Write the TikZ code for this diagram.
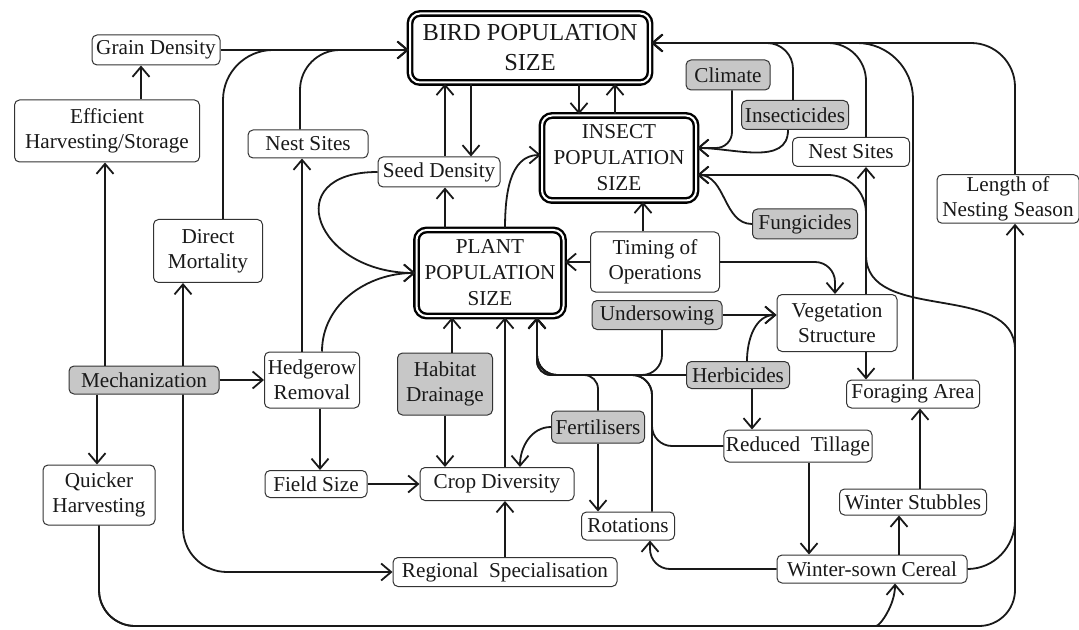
\documentclass[tikz,border=0pt]{standalone}
\usepackage{fontspec}
\setmainfont{Liberation Serif}
\usetikzlibrary{arrows.meta,calc}

\begin{document}
\begin{tikzpicture}[x=0.5pt,y=0.5pt,
  box/.style={draw=black!80, line width=0.5pt, rounded corners=2.5pt, fill=white, align=center,
    inner sep=1pt, text=black!90, font=\fontsize{10.6}{12.5}\selectfont},
  grey/.style={box, fill=black!22},
  pop/.style={box, draw=black, line width=1.2pt, double=white, double distance=1pt,
    rounded corners=5pt, font=\fontsize{10.6}{13}\selectfont},
  arr/.style={-{Straight Barb[length=5pt,width=8.5pt]}, line width=0.9pt, draw=black!90},
]
  \useasboundingbox (0,0) rectangle (1079,-630);
  % top row
  \node[box, minimum width=64pt, minimum height=15pt] (Grain) at(156,-50){Grain Density};
  \node[pop, minimum width=120pt, minimum height=34.5pt, font=\fontsize{12.2}{15}\selectfont] (Bird) at(530,-48){BIRD POPULATION\\SIZE};
  \node[grey, minimum width=42pt, minimum height=15pt] (Climate) at(728,-75){Climate};
  \node[grey, minimum width=53.5pt, minimum height=14.5pt] (Insecticides) at(795,-115){Insecticides};
  \node[box, minimum width=92.5pt, minimum height=31pt] (Eff) at(107,-131){Efficient\\Harvesting/Storage};
  \node[box, minimum width=60pt, minimum height=14pt] (NestL) at(308,-144){Nest Sites};
  \node[box, minimum width=58.5pt, minimum height=14.5pt] (NestR) at(851,-152){Nest Sites};
  \node[pop, minimum width=77pt, minimum height=42.5pt] (Insect) at(619,-158){INSECT\\POPULATION\\SIZE};
  \node[box, minimum width=61pt, minimum height=15pt] (Seed) at(439,-172){Seed Density};
  \node[box, minimum width=71pt, minimum height=23pt] (Length) at(1008,-199){Length of\\Nesting Season};
  \node[grey, minimum width=52.5pt, minimum height=15pt] (Fung) at(805,-224){Fungicides};
  % middle
  \node[box, minimum width=54.5pt, minimum height=31.5pt] (Direct) at(208,-251){Direct\\Mortality};
  \node[box, minimum width=64.5pt, minimum height=30pt] (Timing) at(655,-262){Timing of\\Operations};
  \node[pop, minimum width=73.5pt, minimum height=43pt] (Plant) at(490,-273){PLANT\\POPULATION\\SIZE};
  \node[grey, minimum width=65pt, minimum height=14.5pt] (Under) at(657,-315){Undersowing};
  \node[box, minimum width=60pt, minimum height=28.5pt] (Veg) at(837,-323){Vegetation\\Structure};
  \node[grey, minimum width=75pt, minimum height=14pt] (Mech) at(144,-380){Mechanization};
  \node[box, minimum width=47.5pt, minimum height=28pt] (Hedge) at(312,-380){Hedgerow\\Removal};
  \node[grey, minimum width=47.5pt, minimum height=31pt] (Drain) at(445,-384){Habitat\\Drainage};
  \node[grey, minimum width=51.5pt, minimum height=13.5pt] (Herb) at(738,-375){Herbicides};
  \node[box, minimum width=66.5pt, minimum height=14pt] (Forage) at(913,-394){Foraging Area};
  \node[grey, minimum width=46.5pt, minimum height=16pt] (Fert) at(598,-427){Fertilisers};
  \node[box, minimum width=74pt, minimum height=16pt] (Tillage) at(798,-446){Reduced~ Tillage};
  % bottom
  \node[box, minimum width=51pt, minimum height=13.5pt] (Field) at(316,-484){Field Size};
  \node[box, minimum width=77pt, minimum height=16.5pt] (Crop) at(497,-484){Crop Diversity};
  \node[box, minimum width=56pt, minimum height=30pt] (Quick) at(99,-495){Quicker\\Harvesting};
  \node[box, minimum width=73.5pt, minimum height=13pt] (Stubble) at(913,-502){Winter Stubbles};
  \node[box, minimum width=46.5pt, minimum height=14pt] (Rot) at(628,-526){Rotations};
  \node[box, minimum width=95pt, minimum height=14pt] (Cereal) at(872,-569){Winter-sown Cereal};
  \node[box, minimum width=112pt, minimum height=14.5pt] (Region) at(505,-572){Regional~ Specialisation};

  \coordinate (birdL) at (Grain.east -| Bird.west);
  \coordinate (birdR) at ($(Bird.east)+(0,5)$);
  \coordinate (insUp) at ($(Insect.east)+(0,10)$);
  \coordinate (insDn) at ($(Insect.east)+(0,-17)$);
  \coordinate (bus) at (537,0 |- Herb.west);
  \coordinate (busR) at (652,0 |- Herb.west);

  % left side
  \draw[arr] (141,0 |- Eff.north) -- (141,0 |- Grain.south);
  \draw[arr] (Grain.east) -- (birdL);
  \draw[arr, rounded corners=25pt] (223,0 |- Direct.north) |- (birdL);
  \draw[arr, rounded corners=20pt] (300,0 |- NestL.north) |- (birdL);
  \draw[arr] (105,0 |- Mech.north) -- (105,0 |- Eff.south);
  \draw[arr] (183,0 |- Mech.north) -- (183,0 |- Direct.south);
  \draw[arr, rounded corners=22pt] (183,0 |- Mech.south) |- (Region.west);
  \draw[arr] (Mech.east) -- (Hedge.west);
  \draw[arr] (97,0 |- Mech.south) -- (97,0 |- Quick.north);
  \draw[arr, rounded corners=18pt] (Quick.south) |- (1015,-626) -- (1015,0 |- Length.south);
  \draw[arr, rounded corners=18pt] (Quick.south) |- (840,-626) .. controls (880,-626) and (895,-605) .. (895,0 |- Cereal.south);
  \draw[arr] (302,0 |- Hedge.north) -- (302,0 |- NestL.south);
  \draw[arr] (322,0 |- Hedge.north) to[out=90,in=180] (Plant.west);
  \draw[arr] (Seed.west) .. controls +(-100,0) and +(-100,0) .. (Plant.west);
  \draw[arr] (320,0 |- Hedge.south) -- (320,0 |- Field.north);
  \draw[arr] (Field.east) -- (Crop.west);
  % plants and crops
  \draw[arr] (452,0 |- Drain.north) -- (452,0 |- Plant.south);
  \draw[arr] (445,0 |- Drain.south) -- (445,0 |- Crop.north);
  \draw[arr] (505,0 |- Crop.north) -- (505,0 |- Plant.south);
  \draw[arr] (505,0 |- Region.north) -- (505,0 |- Crop.south);
  \draw[arr] (Fert.west) to[out=180,in=90] (520,0 |- Crop.north);
  \draw[arr] (Fert.south) -- (Fert.south |- Rot.north);
  \draw[arr, rounded corners=7pt] (Fert.north) |- (bus) -- (bus |- Plant.south);
  \draw[arr, rounded corners=10pt] (652,0 |- Rot.north) -- (busR) -- (bus) -- (bus |- Plant.south);
  \draw[arr, rounded corners=10pt] (Tillage.west) -| (busR) -- (bus) -- (bus |- Plant.south);
  \draw[arr, rounded corners=10pt] (662,0 |- Under.south) |- (bus) -- (bus |- Plant.south);
  \draw[arr, rounded corners=7pt] (Herb.west) -- (bus) -- (bus |- Plant.south);
  \draw[arr] (747,0 |- Herb.north) to[out=90,in=180] (Under.east -| Veg.west);
  \draw[arr] (Under.east) -- (Under.east -| Veg.west);
  \draw[arr] (752,0 |- Herb.south) -- (752,0 |- Tillage.north);
  \draw[arr, rounded corners=10pt] (Timing.east) -| (835,0 |- Veg.north);
  \draw[arr] (Timing.west) -- (Timing.west -| Plant.east);
  \draw[arr] (643,0 |- Timing.north) -- (643,0 |- Insect.south);
  % birds and insects
  \draw[arr] (445,0 |- Plant.north) -- (445,0 |- Seed.south);
  \draw[arr] (445,0 |- Seed.north) -- (445,0 |- Bird.south);
  \draw[arr] (471,0 |- Bird.south) -- (471,0 |- Seed.north);
  \draw[arr] (579,0 |- Bird.south) -- (579,0 |- Insect.north);
  \draw[arr] (615,0 |- Insect.north) -- (615,0 |- Bird.south);
  \draw[arr] (505,0 |- Plant.north) to[out=90,in=180] ($(Insect.west)+(0,3)$);
  \draw[arr, rounded corners=8pt] (732,0 |- Climate.south) |- (insUp);
  \draw[arr] (788,0 |- Insecticides.south) to[out=-90,in=0] (insUp);
  \draw[arr] (Fung.west) to[out=180,in=0] (insDn);
  % right side
  \draw[arr, rounded corners=13pt] (793,0 |- Insecticides.north) |- (birdR);
  \draw[arr, rounded corners=19pt] (866,0 |- NestR.north) |- (birdR);
  \draw[arr, rounded corners=28pt] (913,0 |- Forage.north) |- (birdR);
  \draw[arr, rounded corners=22pt] (1015,0 |- Length.north) |- (birdR);
  \draw[arr] (866,0 |- Veg.north) -- (866,0 |- NestR.south);
  \draw[arr] (866,0 |- Veg.south) -- (866,0 |- Forage.north);
  \draw[arr] (809,0 |- Tillage.south) -- (809,0 |- Cereal.north);
  \draw[arr] (899,0 |- Cereal.north) -- (899,0 |- Stubble.south);
  \draw[arr] (920,0 |- Stubble.north) -- (920,0 |- Forage.south);
  \draw[arr, rounded corners=10pt] (Cereal.west) -| (650,0 |- Rot.south);
  \draw[arr] (Cereal.east) to[out=0,in=-90] (1015,-520) -- (1015,-350)
    to[out=90,in=-90] (866,-255) -- (866,-213) to[out=90,in=0] (828,-175) -- (insDn);
\end{tikzpicture}
\end{document}
